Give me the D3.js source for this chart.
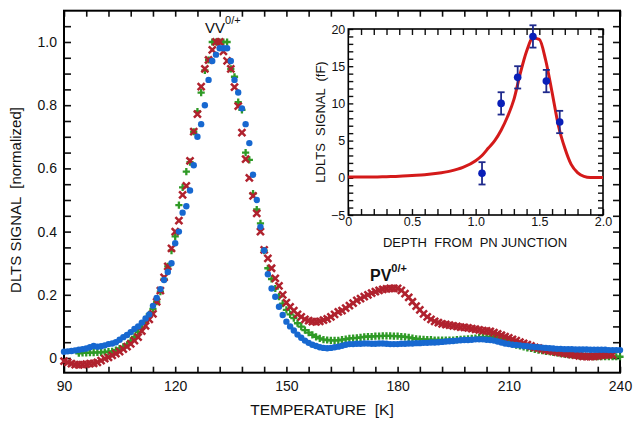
<!DOCTYPE html>
<html><head><meta charset="utf-8">
<script src="https://cdn.jsdelivr.net/npm/d3@7"></script>
<style>
html,body{margin:0;padding:0;background:#fff;}
svg{display:block;font-family:"Liberation Sans",Arial,Helvetica,sans-serif;}
</style></head>
<body>
<svg id="c" width="633" height="422"></svg>
<script>
// ---- main chart data (temperature in K, normalized DLTS signal) ----
const temperatures = [90,91,92,93,94,95,96,97,98,99,100,101,102,103,104,105,106,107,108,109,110,111,112,113,114,115,116,117,118,119,120,121,122,123,124,125,126,127,128,129,130,131,132,133,134,135,136,137,138,139,140,141,142,143,144,145,146,147,148,149,150,151,152,153,154,155,156,157,158,159,160,161,162,163,164,165,166,167,168,169,170,171,172,173,174,175,176,177,178,179,180,181,182,183,184,185,186,187,188,189,190,191,192,193,194,195,196,197,198,199,200,201,202,203,204,205,206,207,208,209,210,211,212,213,214,215,216,217,218,219,220,221,222,223,224,225,226,227,228,229,230,231,232,233,234,235,236,237,238,239,240];

const blueValues = [0.020,0.021,0.022,0.024,0.026,0.028,0.030,0.034,0.038,0.036,0.037,0.040,0.044,0.046,0.050,0.058,0.066,0.073,0.082,0.092,0.100,0.112,0.125,0.138,0.165,0.190,0.218,0.247,0.272,0.300,0.363,0.400,0.460,0.480,0.530,0.610,0.700,0.740,0.800,0.880,0.940,0.960,0.980,0.980,0.980,0.940,0.880,0.840,0.790,0.740,0.680,0.580,0.500,0.415,0.340,0.265,0.220,0.194,0.162,0.136,0.115,0.100,0.087,0.074,0.064,0.055,0.048,0.042,0.038,0.034,0.032,0.031,0.032,0.034,0.036,0.039,0.042,0.044,0.044,0.045,0.045,0.046,0.046,0.045,0.045,0.046,0.046,0.045,0.044,0.044,0.044,0.045,0.045,0.046,0.046,0.047,0.047,0.048,0.048,0.049,0.049,0.050,0.051,0.052,0.053,0.054,0.055,0.056,0.057,0.057,0.058,0.059,0.059,0.059,0.058,0.057,0.055,0.052,0.049,0.046,0.044,0.042,0.041,0.040,0.038,0.037,0.036,0.035,0.034,0.033,0.032,0.031,0.030,0.029,0.029,0.028,0.028,0.028,0.027,0.027,0.027,0.027,0.026,0.026,0.026,0.026,0.026,0.025,0.025,0.025,0.025];

const greenValues = [null,null,null,null,0.015,0.016,0.016,0.017,0.017,0.018,0.018,0.019,0.020,0.021,0.025,0.030,0.035,0.042,0.054,0.067,0.082,0.096,0.115,0.138,0.155,0.178,0.210,0.250,0.290,0.340,0.385,0.484,0.540,0.590,0.620,0.716,0.780,0.840,0.910,0.943,1.000,1.000,1.000,1.000,1.000,0.915,0.890,0.810,0.785,0.650,0.627,0.520,0.470,0.426,0.340,0.284,0.250,0.220,0.194,0.172,0.152,0.138,0.126,0.110,0.099,0.088,0.080,0.073,0.067,0.062,0.058,0.057,0.056,0.056,0.056,0.058,0.060,0.062,0.063,0.064,0.065,0.067,0.068,0.068,0.069,0.069,0.070,0.070,0.070,0.069,0.069,0.068,0.067,0.065,0.063,0.061,0.060,0.059,0.058,0.058,0.057,0.057,0.057,0.057,0.057,0.057,0.058,0.059,0.060,0.061,0.062,0.063,0.065,0.066,0.067,0.067,0.065,0.062,0.058,0.054,0.050,0.045,0.041,0.038,0.035,0.032,0.030,0.027,0.025,0.023,0.021,0.020,0.018,0.016,0.014,0.012,0.011,0.010,0.008,0.007,0.006,0.005,0.005,0.004,0.004,0.004,0.004,0.004,0.004,0.004,0.004];

const redValues = [-0.010,-0.014,-0.018,-0.021,-0.022,-0.021,-0.019,-0.018,-0.017,-0.014,-0.008,-0.002,0.002,0.008,0.014,0.020,0.028,0.036,0.045,0.055,0.066,0.085,0.102,0.122,0.140,0.178,0.213,0.255,0.290,0.347,0.400,0.435,0.516,0.545,0.624,0.716,0.772,0.859,0.915,0.943,0.975,1.000,1.000,0.970,0.940,0.915,0.857,0.797,0.713,0.629,0.570,0.513,0.458,0.400,0.342,0.315,0.284,0.252,0.228,0.200,0.175,0.162,0.150,0.138,0.130,0.122,0.118,0.115,0.114,0.116,0.120,0.124,0.130,0.138,0.146,0.150,0.158,0.166,0.174,0.182,0.188,0.194,0.200,0.205,0.210,0.214,0.217,0.219,0.220,0.220,0.220,0.214,0.204,0.192,0.178,0.164,0.152,0.140,0.130,0.122,0.116,0.112,0.108,0.106,0.104,0.102,0.100,0.098,0.097,0.095,0.093,0.091,0.089,0.087,0.086,0.084,0.080,0.076,0.072,0.068,0.064,0.059,0.055,0.050,0.046,0.042,0.038,0.034,0.031,0.028,0.025,0.023,0.021,0.019,0.017,0.015,0.013,0.011,0.009,0.007,0.005,0.004,0.004,0.005,0.006,0.008,0.010,0.010,0.010,null,null];

const xTickLabels = [90,120,150,180,210,240];
const yTickLabels = [0,0.2,0.4,0.6,0.8,1.0];

// ---- inset data (depth, LDLTS signal in fF) ----
const insetCurveDepth = [0,0.1,0.2,0.3,0.4,0.5,0.6,0.7,0.8,0.9,1.0,1.05,1.1,1.15,1.2,1.25,1.3,1.35,1.4,1.45,1.5,1.55,1.6,1.65,1.7,1.75,1.8,1.85,1.9,1.95,2.0];
const insetCurveSignal = [0.1,0.1,0.1,0.15,0.2,0.3,0.4,0.6,0.9,1.4,2.3,3.0,4.0,5.0,6.4,8.2,10.5,14.0,17.0,18.8,18.6,15.8,11.5,7.0,4.0,1.8,0.7,0.2,0.05,0.05,0.05];
const insetPointDepth = [1.05,1.2,1.33,1.45,1.555,1.66];
const insetPointSignal = [0.6,10.0,13.5,19.0,13.0,7.5];
const insetPointError = [1.5,1.5,1.5,1.5,1.5,1.5];
const insetXTicks = [0,0.5,1.0,1.5,2.0];
const insetYTicks = [-5,0,5,10,15,20];

// ---- drawing ----
const svg = d3.select("#c");
svg.append("rect").attr("width",633).attr("height",422).attr("fill","#fff");

const L=64, R=620, T=10.7, B=372.7;
const x = d3.scaleLinear().domain([90,240]).range([L,R]);
const y = d3.scaleLinear().domain([-0.0465,1.099]).range([B,T]);

const main = svg.append("g");

function minorTicks(g){ g.selectAll(".domain").remove(); g.selectAll("text").remove(); g.selectAll("line").attr("stroke","#111").attr("stroke-width",1.6); }

// minor ticks
const xMinor = d3.range(90,241,6);
const yMinor = d3.range(0,1.1,0.05);
main.append("g").attr("transform",`translate(0,${B})`).call(d3.axisBottom(x).tickValues(xMinor).tickSize(-6)).call(minorTicks);
main.append("g").attr("transform",`translate(0,${T})`).call(d3.axisTop(x).tickValues(xMinor).tickSize(-6)).call(minorTicks);
main.append("g").attr("transform",`translate(${L},0)`).call(d3.axisLeft(y).tickValues(yMinor).tickSize(-7)).call(minorTicks);
main.append("g").attr("transform",`translate(${R},0)`).call(d3.axisRight(y).tickValues(yMinor).tickSize(-7)).call(minorTicks);

// labelled axes
const xAx = main.append("g").attr("transform",`translate(0,${B})`)
  .call(d3.axisBottom(x).tickValues(xTickLabels).tickSize(0).tickPadding(8).tickFormat(d3.format("d")));
xAx.select(".domain").remove();
xAx.selectAll("text").attr("font-size",14).attr("fill","#111").attr("font-family","Liberation Sans, Arial, sans-serif");
const yAx = main.append("g").attr("transform",`translate(${L},0)`)
  .call(d3.axisLeft(y).tickValues(yTickLabels).tickSize(0).tickPadding(7).tickFormat(d => d===0 ? "0" : d3.format(".1f")(d)));
yAx.select(".domain").remove();
yAx.selectAll("text").attr("font-size",14).attr("fill","#111").attr("font-family","Liberation Sans, Arial, sans-serif");

// frame
main.append("rect").attr("x",L).attr("y",T).attr("width",R-L).attr("height",B-T)
  .attr("fill","none").attr("stroke","#000").attr("stroke-width",2);

// series
const pts = (vals) => temperatures.map((t,i)=>({t, v: vals[i]})).filter(d => d.v !== null);
const gGreen = main.append("g");
gGreen.selectAll("path").data(pts(greenValues)).join("path")
  .attr("d", d => `M${x(d.t)-3.6},${y(d.v)}h7.2M${x(d.t)},${y(d.v)-3.6}v7.2`)
  .attr("stroke","#2f9a26").attr("stroke-width",2.3).attr("fill","none");
const gRed = main.append("g");
gRed.selectAll("path").data(pts(redValues)).join("path")
  .attr("d", d => `M${x(d.t)-3.5},${y(d.v)-3.5}l7,7M${x(d.t)-3.5},${y(d.v)+3.5}l7,-7`)
  .attr("stroke","#b0222e").attr("stroke-width",2.5).attr("fill","none");
const gBlue = main.append("g");
gBlue.selectAll("circle").data(pts(blueValues)).join("circle")
  .attr("cx", d => x(d.t)).attr("cy", d => y(d.v)).attr("r",3.2)
  .attr("fill","#1768d0");

// axis titles
svg.append("text").attr("x",322).attr("y",415).attr("text-anchor","middle")
  .attr("font-size",15.5).attr("fill","#111").attr("xml:space","preserve").text("TEMPERATURE  [K]");
svg.append("text").attr("transform","translate(21,200) rotate(-90)").attr("text-anchor","middle")
  .attr("font-size",15).attr("fill","#111").attr("xml:space","preserve").text("DLTS SIGNAL  [normalized]");

// peak labels
const vv = svg.append("text").attr("x",205).attr("y",33).attr("font-size",15).attr("fill","#111");
vv.append("tspan").text("VV");
vv.append("tspan").attr("dy",-9).attr("font-size",11).text("0/+");
const pv = svg.append("text").attr("x",370).attr("y",281).attr("font-size",16).attr("font-weight","bold").attr("fill","#111");
pv.append("tspan").text("PV");
pv.append("tspan").attr("dy",-9).attr("font-size",11).text("0/+");

// ---- inset ----
const iL=348.3, iR=603, iT=29, iB=215;
const ix = d3.scaleLinear().domain([0,2]).range([iL,iR]);
const iy = d3.scaleLinear().domain([-5,20]).range([iB,iT]);
const ins = svg.append("g");
ins.append("rect").attr("x",iL).attr("y",iT).attr("width",iR-iL).attr("height",iB-iT).attr("fill","#fff");

const ixMinor = d3.range(0,2.01,0.1);
const iyMinor = d3.range(-5,20.5,1);
function insetTicks(g){ g.selectAll(".domain").remove(); g.selectAll("text").remove(); g.selectAll("line").attr("stroke","#111").attr("stroke-width",1.4); }
ins.append("g").attr("transform",`translate(0,${iB})`).call(d3.axisBottom(ix).tickValues(ixMinor).tickSize(-6)).call(insetTicks);
ins.append("g").attr("transform",`translate(0,${iT})`).call(d3.axisTop(ix).tickValues(ixMinor).tickSize(-6)).call(insetTicks);
ins.append("g").attr("transform",`translate(${iL},0)`).call(d3.axisLeft(iy).tickValues(iyMinor).tickSize(-5)).call(insetTicks);
ins.append("g").attr("transform",`translate(${iR},0)`).call(d3.axisRight(iy).tickValues(iyMinor).tickSize(-5)).call(insetTicks);

const ixAx = ins.append("g").attr("transform",`translate(0,${iB})`)
  .call(d3.axisBottom(ix).tickValues(insetXTicks).tickSize(0).tickPadding(2).tickFormat(d => d===0 ? "0" : d3.format(".1f")(d)));
ixAx.select(".domain").remove();
ixAx.selectAll("text").attr("font-size",12.5).attr("fill","#111").attr("font-family","Liberation Sans, Arial, sans-serif");
const iyAx = ins.append("g").attr("transform",`translate(${iL},0)`)
  .call(d3.axisLeft(iy).tickValues(insetYTicks).tickSize(0).tickPadding(3).tickFormat(d3.format("d")));
iyAx.select(".domain").remove();
iyAx.selectAll("text").attr("font-size",12.5).attr("fill","#111").attr("font-family","Liberation Sans, Arial, sans-serif");

ins.append("rect").attr("x",iL).attr("y",iT).attr("width",iR-iL).attr("height",iB-iT)
  .attr("fill","none").attr("stroke","#000").attr("stroke-width",1.6);

const curve = d3.line().x(d=>ix(d[0])).y(d=>iy(d[1])).curve(d3.curveMonotoneX);
ins.append("path").datum(insetCurveDepth.map((d,i)=>[d,insetCurveSignal[i]]))
  .attr("d",curve).attr("fill","none").attr("stroke","#d41a1a").attr("stroke-width",3);

const eb = ins.append("g").attr("stroke","#1f2a8c").attr("stroke-width",1.8);
insetPointDepth.forEach((d,i)=>{
  const cx = ix(d), y1 = iy(insetPointSignal[i]+insetPointError[i]), y2 = iy(insetPointSignal[i]-insetPointError[i]);
  eb.append("line").attr("x1",cx).attr("x2",cx).attr("y1",y1).attr("y2",y2);
  eb.append("line").attr("x1",cx-3.5).attr("x2",cx+3.5).attr("y1",y1).attr("y2",y1);
  eb.append("line").attr("x1",cx-3.5).attr("x2",cx+3.5).attr("y1",y2).attr("y2",y2);
});
ins.append("g").selectAll("circle").data(insetPointDepth.map((d,i)=>[d,insetPointSignal[i]])).join("circle")
  .attr("cx",d=>ix(d[0])).attr("cy",d=>iy(d[1])).attr("r",3.8).attr("fill","#0a1fb8");

svg.append("text").attr("x",475).attr("y",247).attr("text-anchor","middle")
  .attr("font-size",13).attr("fill","#111").attr("xml:space","preserve").text("DEPTH  FROM  PN JUNCTION");
svg.append("text").attr("transform","translate(325,122) rotate(-90)").attr("text-anchor","middle")
  .attr("font-size",13).attr("fill","#111").attr("xml:space","preserve").text("LDLTS  SIGNAL  (fF)");
</script>
</body></html>
